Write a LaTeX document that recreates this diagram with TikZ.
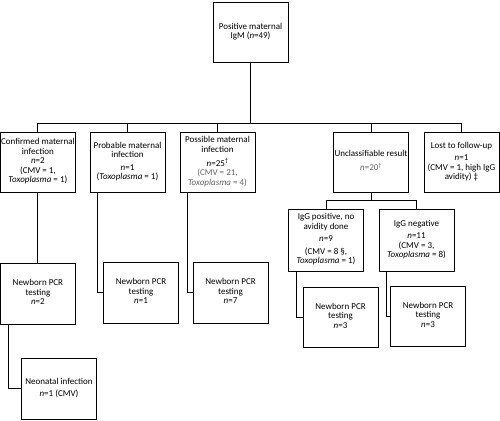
\documentclass[tikz,border=0pt]{standalone}
\usepackage{fontspec}
\setmainfont{Carlito}
\usetikzlibrary{positioning}
\newcommand{\boxtext}[1]{\begin{tabular}{@{}c@{}}#1\end{tabular}}

\begin{document}
\begin{tikzpicture}[x=1pt,y=-1pt,
    box/.style={draw,line width=0.9pt,inner sep=0pt,
      minimum width=75pt,minimum height=60pt,font=\fontsize{9}{9.5}\selectfont},
    link/.style={line width=0.9pt}]
    \useasboundingbox (0,0) rectangle (500,420);
    % top
    \node[box](top) at (250.5,32){\boxtext{Positive maternal\\IgM (\textit{n}=49)}};
    % maternal classes
    \node[box](conf) at (37.9,162){\boxtext{Confirmed maternal\\infection\\\textit{n}=2\\(CMV = 1,\\\textit{Toxoplasma} = 1)}};
    \node[box](prob) at (127.5,162){\boxtext{Probable maternal\\infection\\[3pt]\textit{n}=1\\(\textit{Toxoplasma} = 1)}};
    \node[box](poss) at (217.5,162){\boxtext{Possible maternal\\infection\\[3pt]\textit{n}=25\textsuperscript{†}\\\color{black!60}(CMV = 21,\\\color{black!60}\textit{Toxoplasma} = 4)}};
    \node[box](uncl) at (371,162){\boxtext{Unclassifiable result\\[3pt]\color{black!60}\textit{n}=20\textsuperscript{†}}};
    \node[box](lost) at (461.5,162){\boxtext{Lost to follow-up\\[3pt]\textit{n}=1\\(CMV = 1, high IgG\\avidity) ‡}};
    % unclassifiable split
    \node[box,minimum height=62pt](igpos) at (326,240){\boxtext{IgG positive, no\\avidity done\\[3pt]\textit{n}=9\\[3pt](CMV = 8 §,\\\textit{Toxoplasma} = 1)}};
    \node[box,minimum height=62pt](igneg) at (416.5,240){\boxtext{IgG negative\\[3pt]\textit{n}=11\\(CMV = 3,\\\textit{Toxoplasma} = 8)}};
    % newborn testing
    \node[box,minimum height=61pt](nb1) at (37.9,293.5){\boxtext{Newborn PCR\\testing\\\textit{n}=2}};
    \node[box,minimum height=61pt](nb2) at (141,292.5){\boxtext{Newborn PCR\\testing\\\textit{n}=1}};
    \node[box,minimum height=61pt](nb3) at (230.5,292.5){\boxtext{Newborn PCR\\testing\\\textit{n}=7}};
    \node[box](nb4) at (340.5,317){\boxtext{Newborn PCR\\testing\\\textit{n}=3}};
    \node[box](nb5) at (428,316){\boxtext{Newborn PCR\\testing\\\textit{n}=3}};
    \node[box,minimum height=61pt](neo) at (59,388.5){\boxtext{Neonatal infection\\[3pt]\textit{n}=1 (CMV)}};
    % connectors
    \coordinate(bus) at (250.5,123);
    \coordinate(subbus) at (371,200);
    \draw[link](top)--(bus);
    \foreach \c in {conf,prob,poss,uncl,lost}
      \draw[link](bus)-|(\c.north);
    \draw[link](uncl)--(subbus);
    \draw[link](subbus)-|(igpos.north);
    \draw[link](subbus)-|(igneg.north);
    \draw[link](conf)--(nb1);
    \draw[link]([xshift=8pt]prob.south west)|-(nb2.west);
    \draw[link]([xshift=8pt]poss.south west)|-(nb3.west);
    \draw[link]([xshift=8pt]nb1.south west)|-(neo.west);
    \draw[link]([xshift=8pt]igpos.south west)|-(nb4.west);
    \draw[link]([xshift=8pt]igneg.south west)|-(nb5.west);
  \end{tikzpicture}
\end{document}
